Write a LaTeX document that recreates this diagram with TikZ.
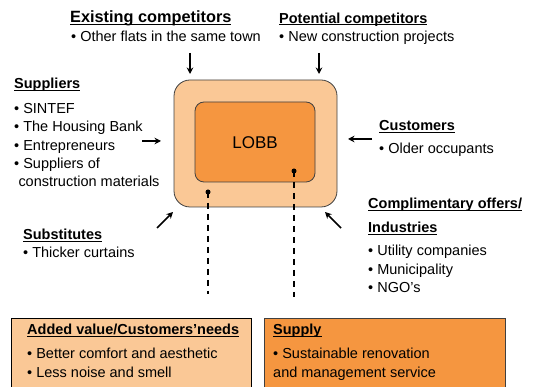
\documentclass[tikz,border=0pt]{standalone}
\usepackage{fontspec}
\setmainfont{Liberation Sans}
\usetikzlibrary{arrows.meta}
\definecolor{lightor}{HTML}{FAC896}
\definecolor{darkor}{HTML}{F59640}
\definecolor{edgegray}{HTML}{404040}
\newcommand\myul[1]{\setbox0\hbox{#1}\rlap{\rule[-2.2pt]{\wd0}{1.3pt}}\box0}
\tikzset{
  txt/.style={anchor=base west, inner sep=0pt, font=\fontsize{14.5}{18}\selectfont},
  head/.style={anchor=base west, inner sep=0pt, font=\fontsize{14.5}{18}\selectfont\bfseries},
  force/.style={line width=1.5pt, -{Stealth[length=6.5pt,width=6.5pt]}},
  dashline/.style={line width=1.4pt, dash pattern=on 6pt off 5pt},
  dotc/.style={circle, fill=black, inner sep=0pt, minimum size=5pt},
}
\begin{document}
\begin{tikzpicture}[x=1pt,y=-1pt]
\useasboundingbox (0,0) rectangle (544,387);
% central boxes
\draw[fill=lightor, draw=edgegray, line width=0.8pt, rounded corners=16pt] (174,80) rectangle (337,207);
\draw[fill=darkor, draw=edgegray, line width=0.8pt, rounded corners=9pt] (195,102) rectangle (315,182);
\node[inner sep=0pt, font=\fontsize{17}{20}\selectfont] (lobb) at (255,143) {LOBB};
\node[dotc] (d1) at (208,192) {};
\node[dotc] (d2) at (294,171) {};
\coordinate (e1) at (208,294);
\coordinate (e2) at (294,297);
\draw[dashline] (d1.center) -- (e1);
\draw[dashline] (d2.center) -- (e2);
% top
\node[head, font=\fontsize{16.3}{18}\selectfont\bfseries] (exh) at (70,22.7) {\myul{Existing competitors}};
\node[txt] (ext) at (71,41.5) {• Other flats in the same town};
\node[head] (poh) at (279,23.3) {\myul{Potential competitors}};
\node[txt] (pot) at (279,41.5) {• New construction projects};
\coordinate (a1s) at (190,53); \coordinate (a1e) at (190,74);
\coordinate (a2s) at (319,53); \coordinate (a2e) at (319,74);
\draw[force] (a1s) -- (a1e);
\draw[force] (a2s) -- (a2e);
% suppliers
\node[head] (suh) at (14,89) {\myul{Suppliers}};
\node[txt] (su1) at (14,113.7) {• SINTEF};
\node[txt] (su2) at (14,132) {• The Housing Bank};
\node[txt] (su3) at (14,150.3) {• Entrepreneurs};
\node[txt] (su4) at (14,168.7) {• Suppliers of};
\node[txt] (su5) at (18.3,187) {construction materials};
\coordinate (a3s) at (142,141); \coordinate (a3e) at (161,141);
\draw[force] (a3s) -- (a3e);
% customers
\node[head] (cuh) at (379,130.7) {\myul{Customers}};
\node[txt] (cu1) at (379,154) {• Older occupants};
\coordinate (a4s) at (372,139); \coordinate (a4e) at (348,139);
\draw[force] (a4s) -- (a4e);
% substitutes
\node[head] (sbh) at (23,240) {\myul{Substitutes}};
\node[txt] (sb1) at (23,258) {• Thicker curtains};
\coordinate (a5s) at (157,228); \coordinate (a5e) at (173,212);
\draw[force] (a5s) -- (a5e);
% complementary
\node[head] (coh) at (368,209) {\myul{Complimentary offers/}};
\node[head] (coh2) at (368,232.7) {\myul{Industries}};
\node[txt] (co1) at (368,256) {• Utility companies};
\node[txt] (co2) at (368,274.7) {• Municipality};
\node[txt] (co3) at (368,292.7) {• NGO’s};
\coordinate (a6s) at (341,228); \coordinate (a6e) at (325,212);
\draw[force] (a6s) -- (a6e);
% bottom boxes
\node[draw=black, line width=0.8pt, fill=lightor, anchor=north west, minimum width=240pt, minimum height=80pt, inner sep=0pt] (addbox) at (11,318) {};
\node[draw=edgegray, line width=0.8pt, fill=darkor, anchor=north west, minimum width=241pt, minimum height=80pt, inner sep=0pt] (supbox) at (264,318) {};
\node[head] (adh) at (27,335) {\myul{Added value/Customers’needs}};
\node[txt] (ad1) at (27,359) {• Better comfort and aesthetic};
\node[txt] (ad2) at (27,378) {• Less noise and smell};
\node[head] (sph) at (273,335) {\myul{Supply}};
\node[txt] (sp1) at (273,359) {• Sustainable renovation};
\node[txt] (sp2) at (273,378) {and management service};
\end{tikzpicture}
\end{document}
